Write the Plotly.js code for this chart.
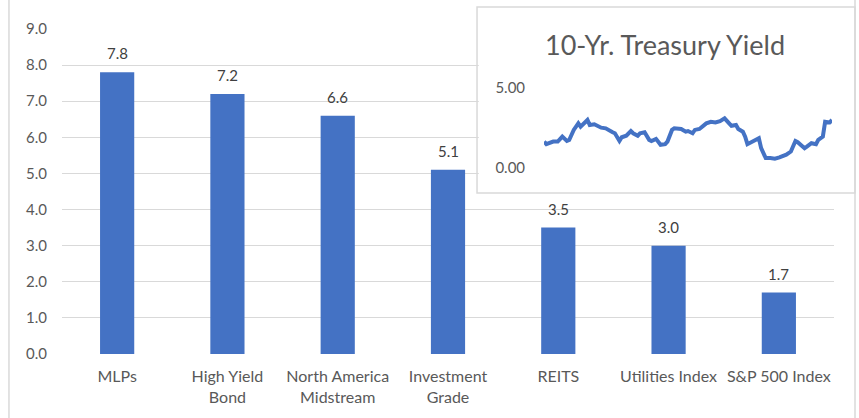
<!DOCTYPE html>
<html>
<head>
<meta charset="utf-8">
<script src="https://cdn.plot.ly/plotly-3.0.1.min.js"></script>
<style>html,body{margin:0;padding:0;background:#fff;}#chart{width:859px;height:418px;}</style>
</head>
<body>
<div id="chart"></div>
<script>
// Main bar chart data
const categories = ["MLPs", "High Yield<br>Bond", "North America<br>Midstream", "Investment<br>Grade", "REITS", "Utilities Index", "S&P 500 Index"];
const yields = [7.8, 7.2, 6.6, 5.1, 3.5, 3.0, 1.7];
const yTickVals = [0, 1, 2, 3, 4, 5, 6, 7, 8, 9];

// Inset: 10-Yr. Treasury Yield (months since start, yield %)
const treasuryMonths = [0,1,4,6,8,10,11,13,15,16,19,20,22,25,27,28,30,31,33,34,36,38,39,41,42,44,46,47,49,51,53,54,56,57,60,62,63,65,66,68,70,71,73,75,77,79,81,82,84,85,87,88,89,92,94,95,97,99,101,103,104,106,108,110,111,114,115,117,119,120,122,123,125,126];
const treasuryYield = [1.65,1.49,1.65,1.65,1.96,1.69,1.75,2.38,2.79,2.58,3.0,2.69,2.73,2.52,2.48,2.38,2.23,2.17,1.69,1.92,2.02,2.31,2.17,2.02,2.17,2.23,1.76,1.69,1.82,1.45,1.49,1.65,2.38,2.48,2.44,2.27,2.31,2.17,2.38,2.44,2.64,2.79,2.89,2.85,2.93,3.1,2.79,2.64,2.69,2.44,2.27,1.96,1.49,1.69,1.86,1.24,0.62,0.62,0.58,0.66,0.72,0.83,1.03,1.69,1.61,1.24,1.34,1.55,1.49,1.76,1.96,2.89,2.85,3.0];
const insetTickVals = [0, 5];
const insetTitle = "10-Yr. Treasury Yield";

const FONT = "Lato, 'Open Sans', sans-serif";
const TXT = "#595959";
const GRID = "#d9d9d9";
const BLUE = "#4472C4";

const traces = [
  {
    type: "bar", x: categories, y: yields, xaxis: "x", yaxis: "y",
    marker: {color: BLUE}, hoverinfo: "skip"
  },
  {
    type: "scatter", mode: "lines", x: treasuryMonths, y: treasuryYield,
    xaxis: "x2", yaxis: "y2",
    line: {color: BLUE, width: 4, shape: "linear"}, hoverinfo: "skip"
  }
];

const valueLabels = yields.map((v, i) => ({
  x: i, y: v, xref: "x", yref: "y",
  text: v.toFixed(1), showarrow: false,
  xanchor: "center", yanchor: "middle", yshift: 19,
  font: {family: FONT, size: 15, color: "#404040"}
}));

const layout = {
  width: 859, height: 418,
  margin: {l: 62, r: 25, t: 29, b: 64},
  paper_bgcolor: "#fff", plot_bgcolor: "rgba(0,0,0,0)",
  showlegend: false,
  bargap: 0.69,
  font: {family: FONT, color: TXT},
  xaxis: {
    domain: [0, 1], type: "category", range: [-0.5, 6.5],
    showgrid: false, zeroline: false, showline: false, ticks: "",
    ticklabelstandoff: 11,
    tickfont: {family: FONT, size: 16, color: TXT}
  },
  yaxis: {
    domain: [0, 1], range: [0, 9],
    tickvals: yTickVals, tickformat: ".1f",
    showgrid: true, gridcolor: GRID, gridwidth: 1,
    zeroline: false, showline: false, ticks: "",
    ticklabelstandoff: 14,
    tickfont: {family: FONT, size: 15, color: TXT}
  },
  xaxis2: {
    domain: [0.6244, 0.9974], range: [0, 126], anchor: "y2",
    showgrid: false, zeroline: false, showline: false, showticklabels: false, ticks: ""
  },
  yaxis2: {
    domain: [0.5723, 0.8185], range: [0, 5], anchor: "x2",
    tickvals: insetTickVals, tickformat: ".2f",
    showgrid: true, gridcolor: GRID, gridwidth: 1.5,
    zeroline: false, showline: false, ticks: "",
    ticklabelstandoff: 18,
    tickfont: {family: FONT, size: 15, color: TXT}
  },
  shapes: [
    // inset frame (outside plot area parts + border)
    {type: "rect", xref: "paper", yref: "paper", x0: 0.5376, x1: 1.0272, y0: 0.4954, y1: 1.0677,
     fillcolor: "#ffffff", line: {color: GRID, width: 1.5}, layer: "below"},
    // white cover over main gridlines inside the inset
    {type: "rect", xref: "x", yref: "y", x0: 3.279, x1: 7, y0: 4.49, y1: 12,
     fillcolor: "#ffffff", line: {width: 0}, layer: "between"},
    // outer chart frame (left / right)
    {type: "line", xref: "paper", yref: "paper", x0: -0.0687, x1: -0.0687, y0: -0.3, y1: 1.2,
     line: {color: GRID, width: 1.5}, layer: "below"},
    {type: "line", xref: "paper", yref: "paper", x0: 1.0272, x1: 1.0272, y0: -0.3, y1: 1.2,
     line: {color: GRID, width: 1.5}, layer: "below"}
  ],
  annotations: valueLabels.concat([
    {xref: "paper", yref: "paper", x: 0.7811, y: 0.951, text: insetTitle, showarrow: false,
     xanchor: "center", yanchor: "middle", font: {family: FONT, size: 27, color: TXT}}
  ])
};

Plotly.newPlot("chart", traces, layout, {staticPlot: true, displayModeBar: false});
</script>
</body>
</html>
